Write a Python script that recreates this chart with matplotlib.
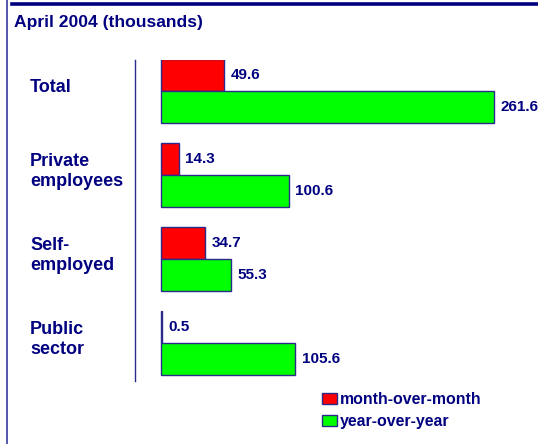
import matplotlib
matplotlib.use("Agg")
import matplotlib.pyplot as plt
import matplotlib.transforms as mtransforms
from matplotlib.lines import Line2D

plt.rcParams["font.family"] = ["Liberation Sans", "DejaVu Sans"]
plt.rcParams["font.weight"] = "bold"

categories = ["Total", "Private\nemployees", "Self-\nemployed", "Public\nsector"]
month_over_month = [49.6, 14.3, 34.7, 0.5]
year_over_year = [261.6, 100.6, 55.3, 105.6]
series_names = ["month-over-month", "year-over-year"]

NAVY = "#000080"
EDGE = "#2b2b8c"
W, H = 538, 444

fig = plt.figure(figsize=(W / 100, H / 100), dpi=100)

# frame bits of the slide
fig.add_artist(Line2D([7 / W, 7 / W], [0, 1], color="#4848a8", lw=1.3))
fig.add_artist(Line2D([12 / W, 1], [1 - 4.5 / H, 1 - 4.5 / H], color=NAVY, lw=2.6))
fig.text(14 / W, 1 - 23 / H, "April 2004 (thousands)", color=NAVY,
         fontsize=12.6, ha="left", va="center")

# axes: left spine at x=135px, top 60px, bottom 381px
ax = fig.add_axes([135 / W, 1 - 381 / H, (W - 135) / W, (381 - 60) / H])
px_per_unit = 333 / 261.6
ax.set_xlim(-(161 - 135) / px_per_unit, (W - 161) / px_per_unit)
ax.set_ylim(3 + (381 - 343) / 84, -(91 - 60) / 84)

pos = list(range(len(categories)))
h = 32 / 84
red = ax.barh([p - h / 2 for p in pos], month_over_month, height=h, color="#ff0000",
              edgecolor=EDGE, linewidth=1.0, label=series_names[0])
green = ax.barh([p + h / 2 for p in pos], year_over_year, height=h, color="#00ff00",
                edgecolor=EDGE, linewidth=1.0, label=series_names[1])

for bars, vals in [(red, month_over_month), (green, year_over_year)]:
    for b, v in zip(bars, vals):
        ax.annotate(f"{v:.1f}", (v, b.get_y() + b.get_height() / 2),
                    xytext=(4.5, 0), textcoords="offset points",
                    ha="left", va="center", color=NAVY, fontsize=11,
                    annotation_clip=False)

ax.spines[["top", "right", "bottom"]].set_visible(False)
ax.spines["left"].set_color(EDGE)
ax.spines["left"].set_linewidth(1.0)
ax.set_xticks([])
ax.set_yticks([])
ax.patch.set_alpha(0)

trans = mtransforms.blended_transform_factory(fig.transFigure, ax.transData)
for p, c in zip(pos, categories):
    ax.text(30 / W, p - 0.04, c, transform=trans, ha="left", va="center",
            color=NAVY, fontsize=13, linespacing=1.22, multialignment="left")

fig.legend(handles=[red, green], labels=series_names, loc="upper left",
           bbox_to_anchor=(322 / W, 1 - 392 / H), frameon=False, fontsize=11.4,
           handlelength=0.95, handleheight=0.7, handletextpad=0.2,
           labelspacing=0.45, borderpad=0, borderaxespad=0, labelcolor=NAVY)

fig.savefig("out.png", dpi=100)
